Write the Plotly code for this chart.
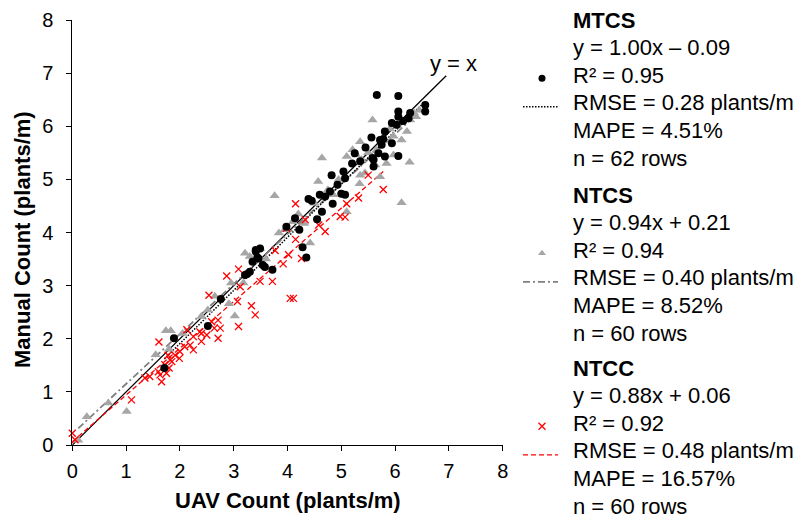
import plotly.graph_objects as go

W, H = 807, 518

# ---------------- data ----------------
mtcs_x = [1.71, 1.89, 2.52, 2.76, 3.21, 3.30, 3.35, 3.41, 3.41, 3.49, 3.44, 3.46, 3.54, 3.58, 3.72,
          3.98, 4.14, 4.22, 4.28, 4.35, 4.39, 4.55, 4.64, 4.60, 4.70, 4.79, 4.84, 4.82, 4.93, 5.04,
          5.07, 5.07, 5.00, 5.25, 5.35, 5.58, 5.60, 5.60, 5.56, 5.69, 5.72, 5.75, 5.78, 5.81, 5.81,
          5.94, 5.94, 6.03, 6.06, 6.06, 6.06, 6.25, 6.28, 6.56, 6.56, 5.66, 6.06, 4.45, 5.20, 5.45,
          6.15, 3.25]
mtcs_y = [1.45, 2.01, 2.24, 2.75, 3.20, 3.26, 3.45, 3.64, 3.67, 3.70, 3.53, 3.51, 3.39, 3.35, 3.30,
          4.11, 4.27, 4.05, 3.72, 3.53, 4.63, 4.25, 4.39, 4.71, 4.68, 4.77, 4.54, 5.08, 4.90, 5.15,
          5.02, 4.71, 4.73, 5.49, 5.34, 5.40, 5.24, 5.37, 5.79, 5.49, 5.74, 5.65, 5.76, 5.90, 5.43,
          5.68, 6.06, 6.03, 6.18, 6.28, 5.44, 6.15, 6.25, 6.40, 6.28, 6.59, 6.57, 4.60, 5.30, 5.60,
          6.10, 3.22]

ntcs_x = [0.11, 0.27, 0.67, 1.01, 1.55, 1.74, 1.83, 1.80, 2.05, 2.40, 2.52, 2.65, 2.91, 2.95, 3.02,
          3.18, 3.21, 3.30, 3.49, 3.60, 3.76, 3.84, 3.95, 4.10, 4.31, 4.42, 4.50, 4.57, 4.64, 4.75,
          4.85, 4.95, 5.10, 5.10, 5.21, 5.28, 5.35, 5.35, 5.44, 5.38, 5.34, 5.50, 5.58, 5.63, 5.65,
          5.72, 5.84, 5.90, 5.97, 5.97, 6.05, 6.12, 6.12, 6.22, 6.27, 6.28, 6.35, 6.39, 6.45, 4.20]
ntcs_y = [0.09, 0.53, 0.79, 0.63, 1.70, 2.15, 2.15, 1.80, 2.10, 2.42, 2.54, 2.80, 2.66, 3.05, 2.43,
          3.05, 3.61, 3.55, 3.70, 3.50, 4.69, 3.99, 4.05, 4.20, 4.17, 3.80, 4.55, 4.96, 5.40, 4.80,
          4.71, 5.00, 4.39, 5.43, 5.56, 5.46, 5.71, 5.08, 5.12, 5.37, 4.92, 5.50, 6.12, 5.27, 5.55,
          5.05, 5.30, 5.95, 5.46, 5.81, 6.00, 5.74, 4.56, 5.90, 5.32, 6.12, 6.25, 6.18, 6.30, 4.35]

ntcc_x = [0.00, 0.05, 1.10, 1.35, 1.44, 1.60, 1.63, 1.66, 1.61, 1.72, 1.75, 1.78, 1.80, 1.82, 1.85,
          1.91, 1.99, 2.00, 2.09, 2.13, 2.19, 2.25, 2.25, 2.37, 2.40, 2.40, 2.50, 2.54, 2.59, 2.64,
          2.71, 2.71, 2.75, 2.87, 3.07, 3.09, 3.09, 3.12, 3.33, 3.40, 3.49, 3.72, 3.77, 3.92, 3.98,
          4.02, 4.05, 4.11, 4.15, 4.15, 4.26, 4.33, 4.58, 4.70, 4.98, 5.07, 5.10, 5.32, 5.50, 5.78]
ntcc_y = [0.22, 0.10, 0.85, 1.26, 1.29, 1.38, 1.32, 1.19, 1.94, 1.51, 1.35, 1.69, 1.45, 1.60, 1.57,
          1.69, 1.63, 1.76, 1.85, 2.17, 1.88, 2.04, 1.79, 2.13, 1.95, 2.10, 2.07, 2.82, 2.32, 2.20,
          2.01, 2.35, 2.20, 3.18, 2.70, 3.31, 2.23, 2.98, 2.62, 2.45, 3.08, 3.08, 3.66, 3.41, 4.08,
          3.58, 2.76, 2.76, 3.87, 4.54, 3.51, 4.24, 4.14, 4.02, 4.30, 4.29, 4.54, 4.65, 5.08, 4.81]

# regression fits (slope, intercept) as printed
fits = {"MTCS": (1.00, -0.09), "NTCS": (0.94, 0.21), "NTCC": (0.88, 0.06)}
identity_x = [0, 6.95]

legend_blocks = [
    ["MTCS", "y = 1.00x \u2013 0.09", "R\u00b2 = 0.95", "RMSE = 0.28 plants/m", "MAPE = 4.51%", "n = 62 rows"],
    ["NTCS", "y = 0.94x + 0.21", "R\u00b2 = 0.94", "RMSE = 0.40 plants/m", "MAPE = 8.52%", "n = 60 rows"],
    ["NTCC", "y = 0.88x + 0.06", "R\u00b2 = 0.92", "RMSE = 0.48 plants/m", "MAPE = 16.57%", "n = 60 rows"],
]
tick_vals = [0, 1, 2, 3, 4, 5, 6, 7, 8]

# ---------------- styles ----------------
FONT = "Liberation Sans, Arial, sans-serif"
black_style = dict(marker=dict(symbol="circle", size=8, color="black"))
gray_style = dict(marker=dict(symbol="triangle-up", size=9, color="#A6A6A6"))
red_style = dict(marker=dict(symbol="x-thin-open", size=7, color="#FF0000", line=dict(width=1.3, color="#FF0000")))
line_styles = {
    "MTCS": dict(color="black", width=1.5, dash="1.5px,1.5px"),
    "NTCS": dict(color="#808080", width=1.8, dash="7px,3px,2px,3px"),
    "NTCC": dict(color="#FF0000", width=1.3, dash="5px,3px"),
}

fig = go.Figure()

# identity line
fig.add_trace(go.Scatter(x=identity_x, y=identity_x, mode="lines",
                         line=dict(color="black", width=1.3), showlegend=False, hoverinfo="skip"))
# fit lines
for name, xs in [("NTCC", ntcc_x), ("NTCS", ntcs_x), ("MTCS", mtcs_x)]:
    m, b = fits[name]
    x0, x1 = min(xs), max(xs)
    fig.add_trace(go.Scatter(x=[x0, x1], y=[m * x0 + b, m * x1 + b], mode="lines",
                             line=line_styles[name], showlegend=False, hoverinfo="skip"))

fig.add_trace(go.Scatter(x=ntcs_x, y=ntcs_y, mode="markers", cliponaxis=False, showlegend=False, **gray_style))
fig.add_trace(go.Scatter(x=ntcc_x, y=ntcc_y, mode="markers", cliponaxis=False, showlegend=False, **red_style))
fig.add_trace(go.Scatter(x=mtcs_x, y=mtcs_y, mode="markers", cliponaxis=False, showlegend=False, **black_style))

# ---------------- custom legend (pixel coordinate overlay axes) ----------------
text_x = 571
block_tops = [20, 195, 368]
row_h = 27.6
marker_styles = [black_style, gray_style, red_style]
names = ["MTCS", "NTCS", "NTCC"]
LEG_SIZE = 22
annotations = []
for bi, block in enumerate(legend_blocks):
    for ri, txt in enumerate(block):
        ypx = block_tops[bi] + ri * row_h
        annotations.append(dict(
            x=text_x, y=ypx, xref="x2", yref="y2", xanchor="left", yanchor="middle",
            text=("<b>%s</b>" % txt) if ri == 0 else txt, showarrow=False,
            font=dict(family=FONT, size=LEG_SIZE, color="black")))
    my = block_tops[bi] + 2 * row_h + 3
    ms = dict(marker_styles[bi]["marker"])
    ms["size"] = 7
    fig.add_trace(go.Scatter(x=[542], y=[my], mode="markers", marker=ms, xaxis="x2", yaxis="y2",
                             showlegend=False, hoverinfo="skip", cliponaxis=False))
    ly = block_tops[bi] + 3 * row_h + 4
    fig.add_trace(go.Scatter(x=[523, 558], y=[ly, ly], mode="lines", line=line_styles[names[bi]],
                             xaxis="x2", yaxis="y2", showlegend=False, hoverinfo="skip"))

# y = x label
annotations.append(dict(x=428, y=63, xref="x2", yref="y2", xanchor="left", yanchor="middle",
                        text="y = x", showarrow=False, font=dict(family=FONT, size=LEG_SIZE, color="black")))
# axis titles
annotations.append(dict(x=287.5, y=500, xref="x2", yref="y2", xanchor="center", yanchor="middle",
                        text="<b>UAV Count (plants/m)</b>", showarrow=False,
                        font=dict(family=FONT, size=22, color="black")))
annotations.append(dict(x=22, y=240, xref="x2", yref="y2", xanchor="center", yanchor="middle",
                        text="<b>Manual Count (plants/m)</b>", textangle=-90, showarrow=False,
                        font=dict(family=FONT, size=22, color="black")))

x_left, x_right, y_top, y_bottom = 72.3, 502.7, 20, 445
axis_common = dict(range=[0, 8], tickvals=tick_vals, ticks="outside", ticklen=5, tickwidth=1,
                   tickcolor="black", showline=True, linecolor="black", linewidth=1,
                   showgrid=False, zeroline=False, automargin=False,
                   tickfont=dict(family=FONT, size=20, color="black"))

fig.update_layout(
    width=W, height=H,
    margin=dict(l=0, r=0, t=0, b=0, pad=0),
    paper_bgcolor="white", plot_bgcolor="rgba(0,0,0,0)",
    xaxis=dict(domain=[x_left / W, x_right / W], anchor="y", ticklabelstandoff=3, **axis_common),
    yaxis=dict(domain=[1 - y_bottom / H, 1 - y_top / H], anchor="x", ticklabelstandoff=9, **axis_common),
    xaxis2=dict(domain=[0, 1], range=[0, W], visible=False, anchor="y2", fixedrange=True),
    yaxis2=dict(domain=[0, 1], range=[H, 0], visible=False, anchor="x2", fixedrange=True),
    annotations=annotations,
    showlegend=False,
)

fig.write_html("out.html")
